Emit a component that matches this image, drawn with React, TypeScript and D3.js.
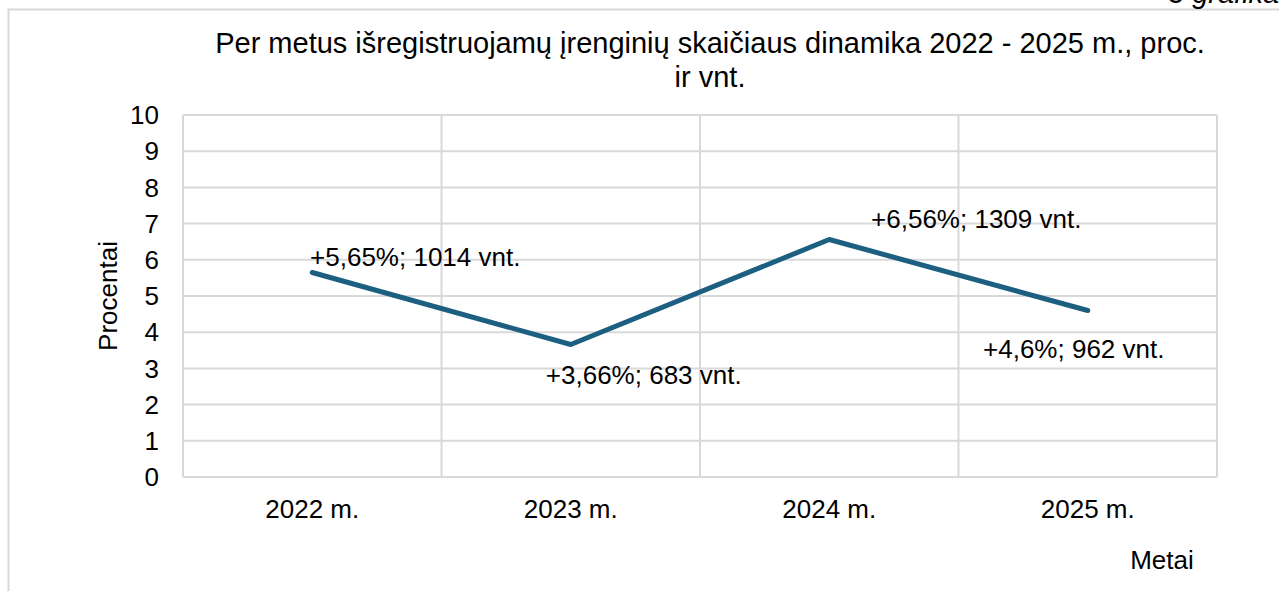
import React, { useRef, useEffect } from 'react';
import * as d3 from 'd3';

// chart data
const categories = ['2022 m.', '2023 m.', '2024 m.', '2025 m.'];
const percentValues = [5.65, 3.66, 6.56, 4.6];
const unitValues = [1014, 683, 1309, 962];
const yTicks = [0, 1, 2, 3, 4, 5, 6, 7, 8, 9, 10];

// label offsets from each point (dx, dy)
const labelOffsets = [
  [103, -16],
  [73, 30],
  [147, -21],
  [-14, 38],
];

const App = () => {
  const svgRef = useRef<SVGSVGElement>(null);

  useEffect(() => {
    const width = 1279;
    const height = 591;
    const svg = d3.select(svgRef.current);
    svg.selectAll('*').remove();

    const font = '"Liberation Sans", Arial, sans-serif';
    const fontSize = 26;
    const titleSize = 29;
    const margin = { top: 115, right: 62, bottom: 114, left: 183 };
    const innerWidth = width - margin.left - margin.right;
    const innerHeight = height - margin.top - margin.bottom;

    // outer chart border
    svg.append('rect')
      .attr('x', 8.5)
      .attr('y', 9.5)
      .attr('width', width + 10)
      .attr('height', height + 10)
      .attr('fill', 'white')
      .attr('stroke', '#d9d9d9')
      .attr('stroke-width', 2);

    // caption at top right (cut by page edge)
    svg.append('text')
      .attr('x', 1168)
      .attr('y', 3)
      .attr('font-family', font)
      .attr('font-size', titleSize)
      .attr('font-style', 'italic')
      .attr('fill', '#000')
      .text('3 grafikas');

    // title
    const title = svg.append('text')
      .attr('text-anchor', 'middle')
      .attr('font-family', font)
      .attr('font-size', titleSize)
      .attr('fill', '#000');
    title.append('tspan').attr('x', 710).attr('y', 53)
      .text('Per metus išregistruojamų įrenginių skaičiaus dinamika 2022 - 2025 m., proc.');
    title.append('tspan').attr('x', 710).attr('y', 87).text('ir vnt.');

    const xScale = d3.scaleBand()
      .domain(categories)
      .range([0, innerWidth])
      .padding(0);

    const yScale = d3.scaleLinear()
      .domain([0, 10])
      .range([innerHeight, 0]);

    const g = svg.append('g')
      .attr('transform', `translate(${margin.left},${margin.top})`);

    // horizontal gridlines
    g.append('g')
      .attr('class', 'y-grid')
      .selectAll('line')
      .data(yTicks)
      .join('line')
      .attr('x1', 0)
      .attr('x2', innerWidth)
      .attr('y1', d => yScale(d))
      .attr('y2', d => yScale(d))
      .attr('stroke', '#d9d9d9')
      .attr('stroke-width', 2);

    // vertical gridlines at category boundaries
    const bounds = categories.map(c => xScale(c) as number).concat([innerWidth]);
    g.append('g')
      .attr('class', 'x-grid')
      .selectAll('line')
      .data(bounds)
      .join('line')
      .attr('x1', d => d)
      .attr('x2', d => d)
      .attr('y1', 0)
      .attr('y2', innerHeight)
      .attr('stroke', '#d9d9d9')
      .attr('stroke-width', 2);

    // y-axis tick labels
    g.append('g')
      .attr('class', 'y-axis')
      .selectAll('text')
      .data(yTicks)
      .join('text')
      .attr('x', -24)
      .attr('y', d => yScale(d))
      .attr('dy', '0.35em')
      .attr('text-anchor', 'end')
      .attr('font-family', font)
      .attr('font-size', fontSize)
      .attr('fill', '#000')
      .text(d => d);

    // x-axis tick labels
    g.append('g')
      .attr('class', 'x-axis')
      .selectAll('text')
      .data(categories)
      .join('text')
      .attr('x', d => (xScale(d) as number) + xScale.bandwidth() / 2)
      .attr('y', innerHeight + 41)
      .attr('text-anchor', 'middle')
      .attr('font-family', font)
      .attr('font-size', fontSize)
      .attr('fill', '#000')
      .text(d => d);

    // axis titles
    svg.append('text')
      .attr('transform', `translate(117,${margin.top + innerHeight / 2}) rotate(-90)`)
      .attr('text-anchor', 'middle')
      .attr('font-family', font)
      .attr('font-size', fontSize)
      .attr('fill', '#000')
      .text('Procentai');

    svg.append('text')
      .attr('x', 1162)
      .attr('y', 569)
      .attr('text-anchor', 'middle')
      .attr('font-family', font)
      .attr('font-size', fontSize)
      .attr('fill', '#000')
      .text('Metai');

    // line
    const pts = categories.map((c, i) => ({
      x: (xScale(c) as number) + xScale.bandwidth() / 2,
      y: yScale(percentValues[i]),
      pct: percentValues[i],
      units: unitValues[i],
      off: labelOffsets[i],
    }));

    const line = d3.line<{ x: number; y: number }>()
      .x(d => d.x)
      .y(d => d.y);

    g.append('path')
      .datum(pts)
      .attr('d', line)
      .attr('fill', 'none')
      .attr('stroke', '#1c5f80')
      .attr('stroke-width', 5)
      .attr('stroke-linejoin', 'round')
      .attr('stroke-linecap', 'round');

    // data labels
    g.append('g')
      .attr('class', 'labels')
      .selectAll('text')
      .data(pts)
      .join('text')
      .attr('x', d => d.x + d.off[0])
      .attr('y', d => d.y + d.off[1])
      .attr('dy', '0.35em')
      .attr('text-anchor', 'middle')
      .attr('font-family', font)
      .attr('font-size', fontSize)
      .attr('fill', '#000')
      .text(d => `+${String(d.pct).replace('.', ',')}%; ${d.units} vnt.`);
  }, []);

  return (
    <svg
      ref={svgRef}
      width={1279}
      height={591}
      style={{ position: 'absolute', left: 0, top: 0, display: 'block', background: 'white' }}
    />
  );
};

export default App;
